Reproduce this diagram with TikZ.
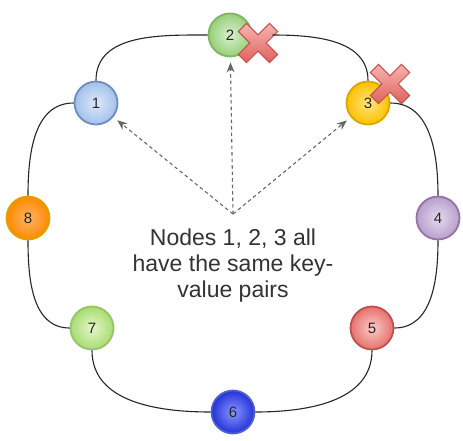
\documentclass[tikz,border=0pt]{standalone}
\usepackage{fontspec}
\setmainfont{Liberation Sans}
\usetikzlibrary{arrows.meta}

% node palette: inner (light) / outer (dark) / border
\definecolor{aIn}{HTML}{DCE9FC}\definecolor{aOut}{HTML}{A3C0EA}\definecolor{aBd}{HTML}{6C8EBF}
\definecolor{bIn}{HTML}{D8EFD2}\definecolor{bOut}{HTML}{97D077}\definecolor{bBd}{HTML}{82B366}
\definecolor{cIn}{HTML}{FFE680}\definecolor{cOut}{HTML}{FFC000}\definecolor{cBd}{HTML}{D7A700}
\definecolor{dIn}{HTML}{E6DAED}\definecolor{dOut}{HTML}{B79FCC}\definecolor{dBd}{HTML}{9673A6}
\definecolor{eIn}{HTML}{F8CECC}\definecolor{eOut}{HTML}{E8706B}\definecolor{eBd}{HTML}{B85450}
\definecolor{fIn}{HTML}{8A95FF}\definecolor{fOut}{HTML}{2233D8}\definecolor{fBd}{HTML}{5060C8}
\definecolor{gIn}{HTML}{E4F7C8}\definecolor{gOut}{HTML}{A8DC72}\definecolor{gBd}{HTML}{97C36A}
\definecolor{hIn}{HTML}{FFB366}\definecolor{hOut}{HTML}{FF8A00}\definecolor{hBd}{HTML}{E0A000}
\definecolor{xIn}{HTML}{F7B3B0}\definecolor{xOut}{HTML}{E0625C}\definecolor{xBd}{HTML}{C0504C}
\definecolor{hint}{HTML}{666666}

\tikzset{
  ringnode/.style={circle, minimum size=43pt, inner sep=0pt,
    line width=1.8pt, draw=#1Bd, inner color=#1In, outer color=#1Out,
    font=\fontsize{15}{15}\selectfont, text=black!85},
  link/.style={line width=1.1pt, black!85},
  hintarrow/.style={hint, line width=1.1pt, dash pattern=on 3.5pt off 3pt,
    -{Stealth[length=10pt,width=8pt]}, shorten >=5pt},
  cross/.style={draw=xBd, line width=1pt, top color=xIn, bottom color=xOut}
}

% X mark built from a rotated plus sign
\newcommand{\failmark}[1]{%
  \begin{scope}[shift={#1}, rotate=45]
    \path[cross] (5.8,5.8) -- (5.8,22) -- (-5.8,22) -- (-5.8,5.8) -- (-22,5.8)
      -- (-22,-5.8) -- (-5.8,-5.8) -- (-5.8,-22) -- (5.8,-22) -- (5.8,-5.8)
      -- (22,-5.8) -- (22,5.8) -- cycle;
  \end{scope}}

\begin{document}
\begin{tikzpicture}[x=1pt, y=1pt]
  \useasboundingbox (0,0) rectangle (463,-440);

  % ring members
  \node[ringnode=a] (n1) at (96,-103) {1};
  \node[ringnode=b] (n2) at (230,-35) {2};
  \node[ringnode=c] (n3) at (368,-103) {3};
  \node[ringnode=d] (n4) at (438,-218) {4};
  \node[ringnode=e] (n5) at (372,-328) {5};
  \node[ringnode=f] (n6) at (233,-412) {6};
  \node[ringnode=g] (n7) at (92,-328) {7};
  \node[ringnode=h] (n8) at (28,-218) {8};

  % failure marks on nodes 2 and 3
  \failmark{(258,-43)}
  \failmark{(390,-84)}

  % ring links
  \path (n2.east) ++(20,0) coordinate (c23);
  \draw[link] (n1.north) to[out=90,in=180] (n2.west);
  \draw[link] (c23) to[out=0,in=90] (n3.north);
  \draw[link] (n3.east) to[out=0,in=90] (n4.north);
  \draw[link] (n4.south) to[out=-90,in=0] (n5.east);
  \draw[link] (n5.south) to[out=-90,in=0] (n6.east);
  \draw[link] (n6.west) to[out=180,in=-90] (n7.south);
  \draw[link] (n7.west) to[out=180,in=-90] (n8.south);
  \draw[link] (n8.north) to[out=90,in=180] (n1.west);

  % replication hint
  \coordinate (hub) at (233,-214);
  \draw[hintarrow] (hub) -- (n2);
  \draw[hintarrow] (hub) -- (n1);
  \draw[hintarrow] (hub) -- (n3);

  \node[font=\fontsize{23}{26}\selectfont, text=black!80, align=center]
    (note) at (233,-266) {Nodes 1, 2, 3 all\\have the same key-\\value pairs};
\end{tikzpicture}
\end{document}
